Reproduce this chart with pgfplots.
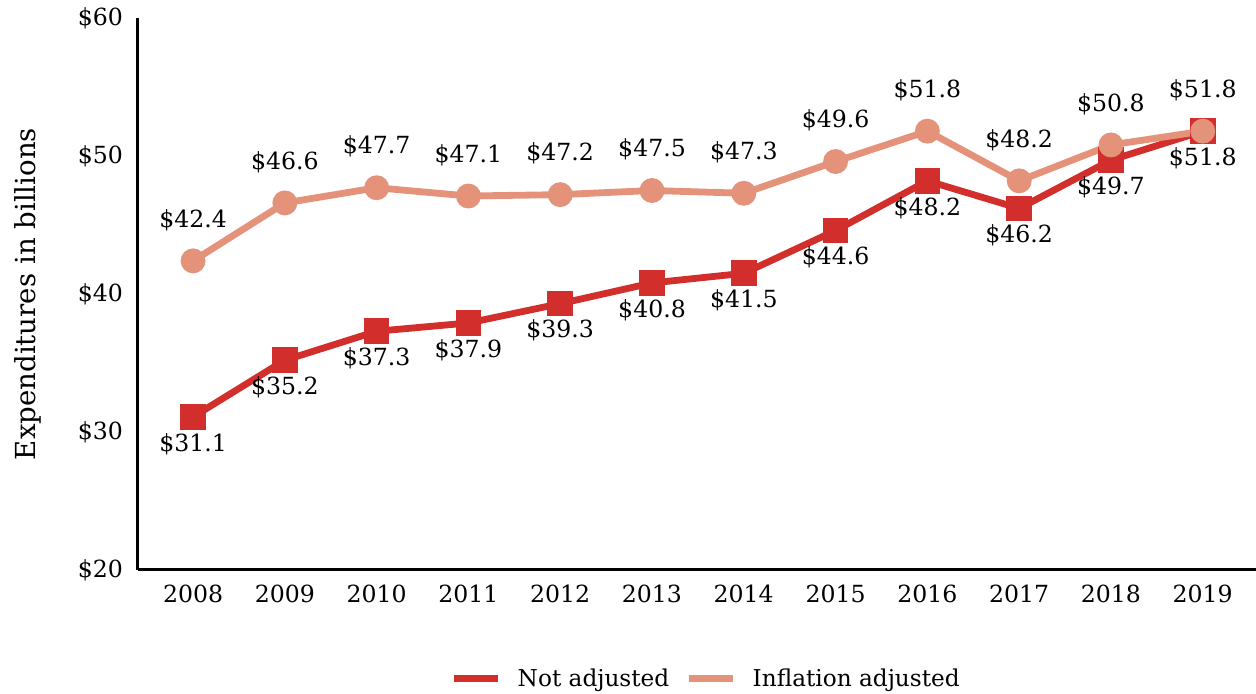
\documentclass[border=0pt]{standalone}
\usepackage{pgfplots}
\pgfplotsset{compat=1.18}
\usepackage{fontspec}
\setmainfont{DejaVu Serif}
\definecolor{redline}{RGB}{210,46,43}
\definecolor{salmon}{RGB}{228,147,122}
\begin{document}
\begin{tikzpicture}
\begin{axis}[
  scale only axis,
  width=559pt, height=276pt,
  xmin=2007.4, xmax=2019.58,
  ymin=20, ymax=60,
  axis x line=bottom, axis y line=left,
  axis line style={line width=1.5pt, -},
  xtick={2008,...,2019},
  ytick={20,30,40,50,60},
  major tick length=0pt,
  xticklabel style={yshift=-4pt},
  xticklabel={\pgfmathprintnumber[1000 sep=]{\tick}},
  yticklabel={\$\pgfmathprintnumber{\tick}},
  yticklabel style={xshift=-4pt},
  tick label style={font=\fontsize{11.8}{13}\selectfont},
  /pgf/number format/assume math mode=true,
  ylabel={Expenditures in billions},
  y label style={at={(axis description cs:-0.0984,0.5)}, anchor=center, font=\fontsize{13.8}{15}\selectfont},
  clip=false,
  legend columns=2,
  legend style={draw=none, at={(0.509,-0.197)}, anchor=center,
    font=\fontsize{11.6}{13}\selectfont, column sep=6pt},
  legend image code/.code={\draw[line width=3.5pt] (0cm,0cm) -- (0.78cm,0cm);},
  nodes near coords={\$\pgfmathprintnumber[fixed,precision=1,fixed zerofill]{\pgfplotspointmeta}},
  point meta=explicit,
  nodes near coords style={font=\fontsize{11.8}{13}\selectfont, text=black, anchor=center},
]
\addplot[redline, line width=3.4pt, mark=square*, mark size=4.7pt,
  every node near coord/.append style={yshift=-13.5pt}]
  coordinates {
  (2008,31.1)[31.1] (2009,35.2)[35.2] (2010,37.3)[37.3] (2011,37.9)[37.9]
  (2012,39.3)[39.3] (2013,40.8)[40.8] (2014,41.5)[41.5] (2015,44.6)[44.6]
  (2016,48.2)[48.2] (2017,46.2)[46.2] (2018,49.7)[49.7] (2019,51.8)[51.8]
};
\addlegendentry{Not adjusted}
\addplot[salmon, line width=3.4pt, mark=*, mark size=4.5pt,
  every node near coord/.append style={yshift=20.5pt}]
  coordinates {
  (2008,42.4)[42.4] (2009,46.6)[46.6] (2010,47.7)[47.7] (2011,47.1)[47.1]
  (2012,47.2)[47.2] (2013,47.5)[47.5] (2014,47.3)[47.3] (2015,49.6)[49.6]
  (2016,51.8)[51.8] (2017,48.2)[48.2] (2018,50.8)[50.8] (2019,51.8)[51.8]
};
\addlegendentry{Inflation adjusted}
\end{axis}
\pgfresetboundingbox
\path[use as bounding box] (current axis.south west) ++(-69pt,-62pt) rectangle ([yshift=9pt]current axis.north east);
\end{tikzpicture}
\end{document}
